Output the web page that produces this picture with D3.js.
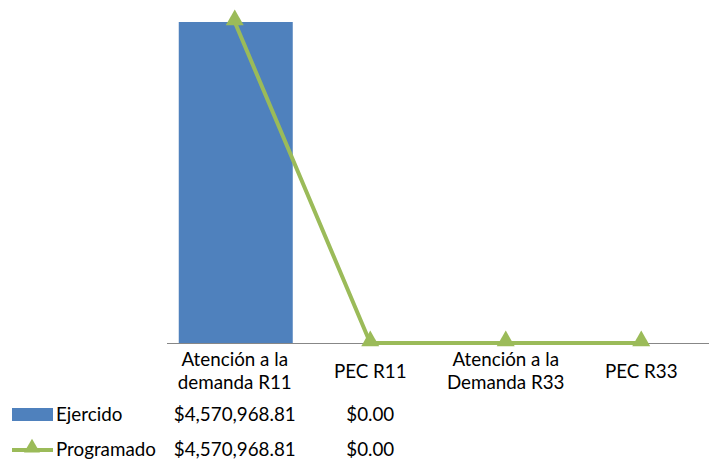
<!DOCTYPE html>
<html><head><meta charset="utf-8">
<script src="https://cdn.jsdelivr.net/npm/d3@7"></script>
<style>body{margin:0;background:#fff}svg{display:block}</style>
</head><body>
<script>
const categories = [["Atención a la","demanda R11"],["PEC R11"],["Atención a la","Demanda R33"],["PEC R33"]];
const ejercido = [4570968.81, 0, null, null];
const programado = [4570968.81, 0, null, null];
const seriesNames = ["Ejercido","Programado"];

const W = 709, H = 459;
const font = "Lato, 'Open Sans', sans-serif";
const fs = 18.8;
const svg = d3.select("body").append("svg").attr("width", W).attr("height", H);

const x = d3.scaleBand().domain(d3.range(categories.length)).range([167, 709]).paddingInner(0.16).paddingOuter(0.08);
const xc = i => x(i) + x.bandwidth()/2;
const y = d3.scaleLinear().domain([0, 4570968.81]).range([343, 22]);

// bars
svg.selectAll("rect.bar").data(ejercido.map((v,i)=>({v,i})).filter(d=>d.v!=null && d.v>0))
  .enter().append("rect").attr("class","bar")
  .attr("x", d => xc(d.i) - 56).attr("width", 114)
  .attr("y", d => y(d.v)).attr("height", d => y(0)-y(d.v))
  .attr("fill", "#4F81BD");

// axis line
svg.append("line").attr("x1",167).attr("x2",709).attr("y1",343.5).attr("y2",343.5)
  .attr("stroke","#878787").attr("stroke-width",1);

// line series (empty cells shown as zero)
const pts = programado.map((v,i)=>({i, v: v==null?0:v}));
svg.append("path").datum(pts)
  .attr("d", d3.line().x(d=>xc(d.i)).y(d=>y(d.v)))
  .attr("fill","none").attr("stroke","#9BBB59").attr("stroke-width",4).attr("stroke-linejoin","round");
const tri = d3.symbol().type(d3.symbolTriangle).size(140);
svg.selectAll("path.mk").data(pts).enter().append("path").attr("class","mk")
  .attr("d", tri).attr("transform", d=>`translate(${xc(d.i)},${y(d.v)-2})`)
  .attr("fill","#9BBB59");

// category labels
categories.forEach((lines,i)=>{
  const t = svg.append("text").attr("x", xc(i)).attr("text-anchor","middle")
    .attr("font-family",font).attr("font-size",fs).attr("fill","#000");
  const start = lines.length===2 ? 366 : 378;
  lines.forEach((l,j)=>t.append("tspan").attr("x", xc(i)).attr("y", start + j*23).text(l));
});

// data table
const fmt = v => "$" + d3.format(",.2f")(v);
const rows = [ejercido, programado];
const rowY = [421, 456];
rows.forEach((r,ri)=>{
  r.forEach((v,i)=>{
    if (v==null) return;
    svg.append("text").attr("x", xc(i)).attr("y", rowY[ri]).attr("text-anchor","middle")
      .attr("font-family",font).attr("font-size",fs).attr("fill","#000").text(fmt(v));
  });
  svg.append("text").attr("x", 56).attr("y", rowY[ri])
    .attr("font-family",font).attr("font-size",fs).attr("fill","#000").text(seriesNames[ri]);
});
// legend keys
svg.append("rect").attr("x",12).attr("y",408).attr("width",41).attr("height",13).attr("fill","#4F81BD");
svg.append("line").attr("x1",12).attr("x2",53).attr("y1",450).attr("y2",450).attr("stroke","#9BBB59").attr("stroke-width",4);
svg.append("path").attr("d", d3.symbol().type(d3.symbolTriangle).size(110)).attr("transform","translate(32,448)").attr("fill","#9BBB59");
</script>
</body></html>
